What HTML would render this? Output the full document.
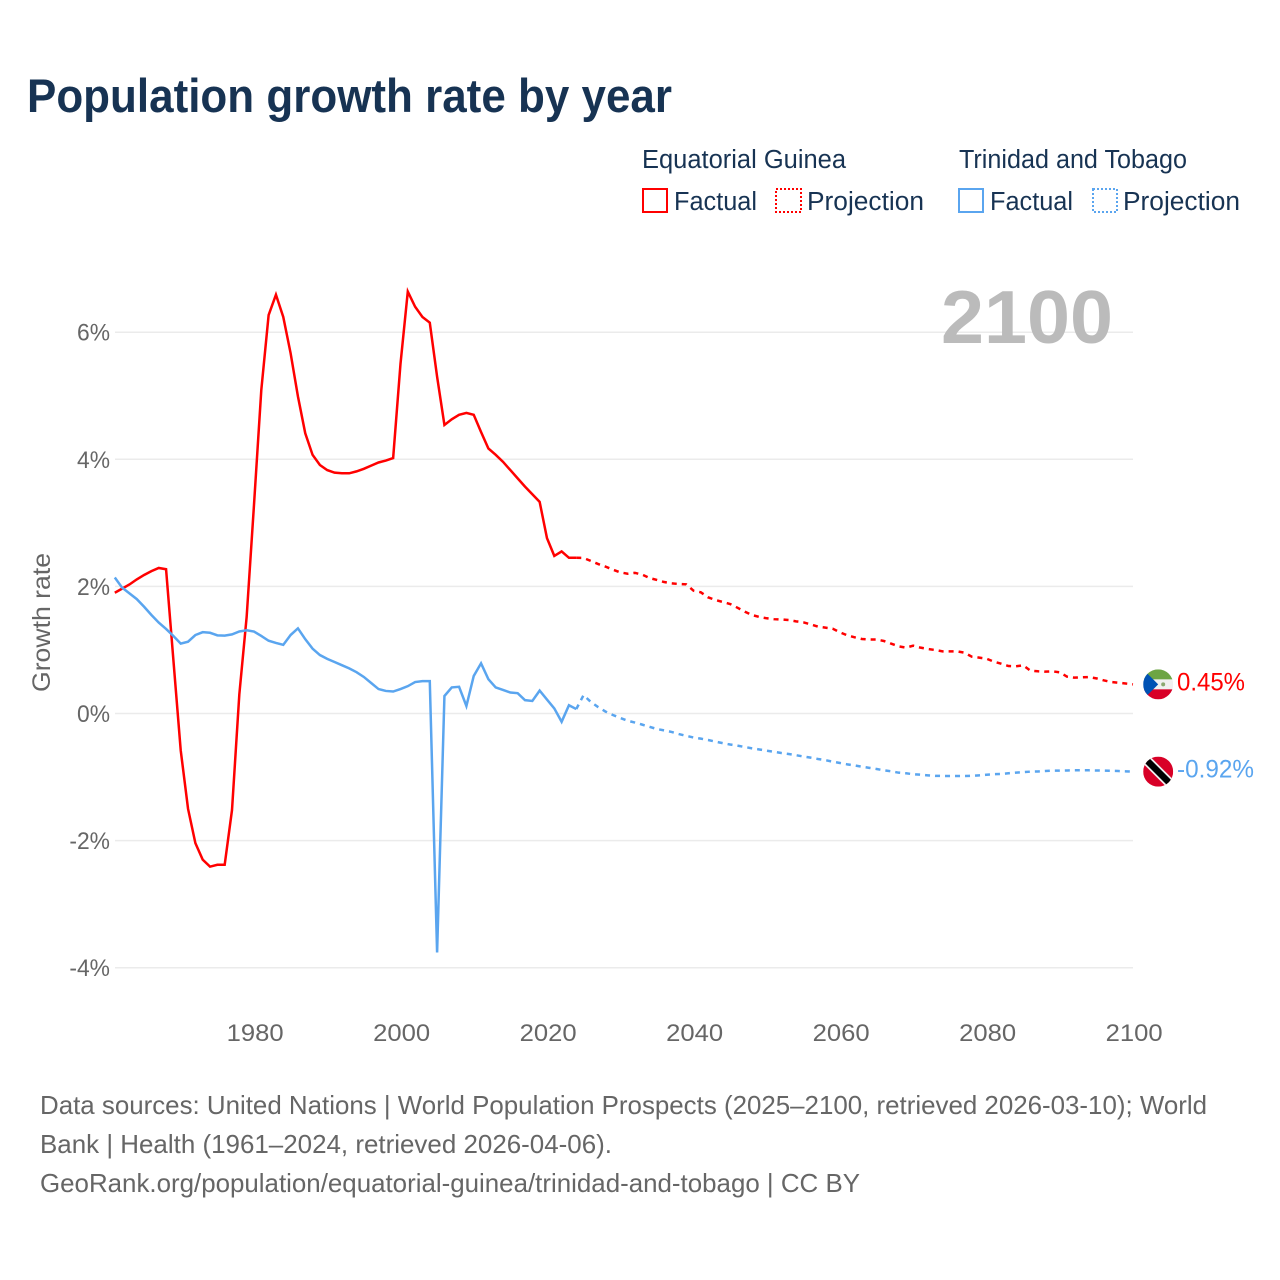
<!DOCTYPE html>
<html lang="en">
<head>
<meta charset="utf-8">
<title>Population growth rate by year</title>
<style>
html,body{margin:0;padding:0;background:#fff;}
svg{display:block;font-family:"Liberation Sans",sans-serif;}
</style>
</head>
<body>
<svg id="chart" width="1280" height="1280" viewBox="0 0 1280 1280" xmlns="http://www.w3.org/2000/svg">
  <rect width="1280" height="1280" fill="#fff"/>
  <text x="27" y="112" font-size="47" font-weight="700" fill="#173353" textLength="645" lengthAdjust="spacingAndGlyphs">Population growth rate by year</text>

  <g font-size="25.5" fill="#173353">
    <text x="642" y="168" textLength="204" lengthAdjust="spacingAndGlyphs">Equatorial Guinea</text>
    <text x="959" y="168" textLength="228" lengthAdjust="spacingAndGlyphs">Trinidad and Tobago</text>
    <rect x="643" y="189" width="24" height="23" fill="none" stroke="#ff0000" stroke-width="2"/>
    <text x="674" y="210" textLength="83" lengthAdjust="spacingAndGlyphs">Factual</text>
    <rect x="776" y="189" width="25" height="23" fill="none" stroke="#ff0000" stroke-width="2" stroke-dasharray="2 2"/>
    <text x="807" y="210" textLength="117" lengthAdjust="spacingAndGlyphs">Projection</text>
    <rect x="959" y="189" width="24" height="23" fill="none" stroke="#5aa5ef" stroke-width="2"/>
    <text x="990" y="210" textLength="83" lengthAdjust="spacingAndGlyphs">Factual</text>
    <rect x="1093" y="189" width="24" height="23" fill="none" stroke="#5aa5ef" stroke-width="2" stroke-dasharray="2 2"/>
    <text x="1123" y="210" textLength="117" lengthAdjust="spacingAndGlyphs">Projection</text>
  </g>

  <g id="grid"></g>
  <g id="yticks" font-size="24" fill="#666"></g>
  <g id="xticks" font-size="24" fill="#666"></g>

  <text transform="translate(50,692) rotate(-90)" font-size="25" fill="#666" textLength="139" lengthAdjust="spacingAndGlyphs">Growth rate</text>
  <text x="941" y="343" font-size="75" font-weight="700" fill="#bbbbbb" textLength="172" lengthAdjust="spacingAndGlyphs">2100</text>

  <g id="series"></g>

  <g id="flag-eg">
    <clipPath id="clip-eg"><circle cx="0" cy="0" r="15"/></clipPath>
    <g clip-path="url(#clip-eg)">
      <rect x="-15" y="-15" width="30" height="30" fill="#f0f0f0"/>
      <rect x="-15" y="-15" width="30" height="10" fill="#6da544"/>
      <rect x="-15" y="5" width="30" height="10" fill="#d80027"/>
      <polygon points="-15,-15 0,0 -15,15" fill="#0052b4"/>
      <circle cx="5" cy="0" r="2" fill="#8aa870"/>
    </g>
  </g>
  <g id="flag-tt">
    <clipPath id="clip-tt"><circle cx="0" cy="0" r="15"/></clipPath>
    <g clip-path="url(#clip-tt)">
      <rect x="-15" y="-15" width="30" height="30" fill="#d80027"/>
      <line x1="-15" y1="-15" x2="15" y2="15" stroke="#f0f0f0" stroke-width="10"/>
      <line x1="-15" y1="-15" x2="15" y2="15" stroke="#000" stroke-width="6.5"/>
    </g>
  </g>
  <text id="value-eg" x="1177" font-size="25" fill="#ff0000" textLength="68" lengthAdjust="spacingAndGlyphs">0.45%</text>
  <text id="value-tt" x="1177" font-size="25" fill="#5aa5ef" textLength="77" lengthAdjust="spacingAndGlyphs">-0.92%</text>

  <g font-size="26" fill="#666">
    <text x="40" y="1114" textLength="1167" lengthAdjust="spacingAndGlyphs">Data sources: United Nations | World Population Prospects (2025–2100, retrieved 2026-03-10); World</text>
    <text x="40" y="1153" textLength="572" lengthAdjust="spacingAndGlyphs">Bank | Health (1961–2024, retrieved 2026-04-06).</text>
    <text x="40" y="1192" textLength="820" lengthAdjust="spacingAndGlyphs">GeoRank.org/population/equatorial-guinea/trinidad-and-tobago | CC BY</text>
  </g>
</svg>
<script>
const factualYears = [1961,1962,1963,1964,1965,1966,1967,1968,1969,1970,1971,1972,1973,1974,1975,1976,1977,1978,1979,1980,1981,1982,1983,1984,1985,1986,1987,1988,1989,1990,1991,1992,1993,1994,1995,1996,1997,1998,1999,2000,2001,2002,2003,2004,2005,2006,2007,2008,2009,2010,2011,2012,2013,2014,2015,2016,2017,2018,2019,2020,2021,2022,2023,2024];
const projectionYears = [2024,2025,2026,2027,2028,2029,2030,2031,2032,2033,2034,2035,2036,2037,2038,2039,2040,2041,2042,2043,2044,2045,2046,2047,2048,2049,2050,2051,2052,2053,2054,2055,2056,2057,2058,2059,2060,2061,2062,2063,2064,2065,2066,2067,2068,2069,2070,2071,2072,2073,2074,2075,2076,2077,2078,2079,2080,2081,2082,2083,2084,2085,2086,2087,2088,2089,2090,2091,2092,2093,2094,2095,2096,2097,2098,2099,2100];
const egFactual = [1.90,1.965,2.03,2.11,2.18,2.24,2.29,2.27,0.84,-0.58,-1.50,-2.04,-2.30,-2.41,-2.38,-2.38,-1.52,0.30,1.52,3.28,5.09,6.27,6.59,6.24,5.67,4.99,4.41,4.07,3.91,3.83,3.79,3.78,3.78,3.81,3.85,3.90,3.95,3.98,4.02,5.50,6.64,6.40,6.24,6.15,5.30,4.54,4.63,4.70,4.73,4.70,4.43,4.17,4.07,3.96,3.83,3.70,3.57,3.45,3.33,2.76,2.48,2.55,2.45,2.45];
const egProjection = [2.45,2.447,2.40,2.352,2.311,2.263,2.221,2.20,2.213,2.185,2.132,2.101,2.069,2.048,2.038,2.033,1.933,1.907,1.828,1.786,1.755,1.723,1.665,1.602,1.55,1.518,1.498,1.484,1.479,1.471,1.45,1.435,1.403,1.366,1.351,1.335,1.277,1.23,1.199,1.172,1.165,1.164,1.141,1.099,1.057,1.036,1.067,1.036,1.015,0.999,0.978,0.978,0.978,0.957,0.894,0.879,0.863,0.816,0.784,0.747,0.742,0.758,0.674,0.664,0.658,0.664,0.648,0.58,0.564,0.569,0.574,0.553,0.522,0.496,0.485,0.472,0.459];
const ttFactual = [2.14,1.98,1.89,1.80,1.68,1.55,1.43,1.33,1.22,1.10,1.13,1.235,1.28,1.27,1.23,1.225,1.245,1.29,1.31,1.29,1.22,1.145,1.11,1.08,1.235,1.34,1.17,1.02,0.92,0.86,0.81,0.76,0.71,0.65,0.575,0.48,0.385,0.355,0.346,0.385,0.43,0.495,0.51,0.51,-3.76,0.275,0.41,0.42,0.118,0.59,0.79,0.54,0.41,0.37,0.33,0.32,0.21,0.197,0.36,0.22,0.08,-0.13,0.13,0.07];
const ttProjection = [0.07,0.29,0.18,0.10,0.03,-0.024,-0.07,-0.113,-0.142,-0.175,-0.21,-0.244,-0.266,-0.29,-0.323,-0.351,-0.378,-0.396,-0.417,-0.443,-0.467,-0.488,-0.506,-0.527,-0.548,-0.566,-0.585,-0.603,-0.622,-0.637,-0.656,-0.677,-0.695,-0.716,-0.734,-0.758,-0.779,-0.80,-0.818,-0.837,-0.855,-0.873,-0.894,-0.91,-0.931,-0.941,-0.955,-0.963,-0.973,-0.981,-0.983,-0.983,-0.983,-0.983,-0.981,-0.973,-0.963,-0.955,-0.952,-0.941,-0.931,-0.923,-0.915,-0.912,-0.905,-0.899,-0.899,-0.897,-0.894,-0.894,-0.894,-0.897,-0.899,-0.902,-0.905,-0.91,-0.915];
const yTickValues = [6,4,2,0,-2,-4];
const yTickLabels = ["6%","4%","2%","0%","-2%","-4%"];
const xTickValues = [1980,2000,2020,2040,2060,2080,2100];
const xTickLabels = ["1980","2000","2020","2040","2060","2080","2100"];

const SVGNS = "http://www.w3.org/2000/svg";
const RED = "#ff0000";
const BLUE = "#5aa5ef";
function x(year){ return 114.8 + (year - 1961) * 7.325; }
function y(value){ return 713.5 - value * 63.55; }
function pathFrom(years, values){
  return values.map(function(v, i){
    return (i ? "L" : "M") + x(years[i]).toFixed(2) + " " + y(v).toFixed(2);
  }).join("");
}
const gridG = document.getElementById("grid");
const yG = document.getElementById("yticks");
const xG = document.getElementById("xticks");
const seriesG = document.getElementById("series");

yTickValues.forEach(function(v, i){
  const line = document.createElementNS(SVGNS, "line");
  
  
  line.setAttribute("x1", 115);
  line.setAttribute("x2", 1133);
  line.setAttribute("y1", y(v));
  line.setAttribute("y2", y(v));
  line.setAttribute("stroke", "#ebebeb");
  line.setAttribute("stroke-width", "1.5");
  gridG.appendChild(line);
  const t = document.createElementNS(SVGNS, "text");
  
  
  t.setAttribute("x", 110);
  t.setAttribute("y", y(v) + 8.5);
  t.setAttribute("text-anchor", "end");
  t.textContent = yTickLabels[i];
  yG.appendChild(t);
  t.setAttribute("textLength", (t.getComputedTextLength() * 0.95).toFixed(1));
  t.setAttribute("lengthAdjust", "spacingAndGlyphs");
});
xTickValues.forEach(function(v, i){
  const t = document.createElementNS(SVGNS, "text");
  
  
  t.setAttribute("x", x(v) + 1.2);
  t.setAttribute("y", 1041);
  t.setAttribute("text-anchor", "middle");
  t.setAttribute("textLength", "57");
  t.setAttribute("lengthAdjust", "spacingAndGlyphs");
  t.textContent = xTickLabels[i];
  xG.appendChild(t);
});

const egFactualPath = document.createElementNS(SVGNS, "path");


egFactualPath.setAttribute("d", pathFrom(factualYears, egFactual));
egFactualPath.setAttribute("fill", "none");
egFactualPath.setAttribute("stroke", RED);
egFactualPath.setAttribute("stroke-width", "2.5");
seriesG.appendChild(egFactualPath);

const egProjPath = document.createElementNS(SVGNS, "path");


egProjPath.setAttribute("d", pathFrom(projectionYears, egProjection));
egProjPath.setAttribute("fill", "none");
egProjPath.setAttribute("stroke", RED);
egProjPath.setAttribute("stroke-width", "2.5");
egProjPath.setAttribute("stroke-dasharray", "5 5");
seriesG.appendChild(egProjPath);

const ttFactualPath = document.createElementNS(SVGNS, "path");


ttFactualPath.setAttribute("d", pathFrom(factualYears, ttFactual));
ttFactualPath.setAttribute("fill", "none");
ttFactualPath.setAttribute("stroke", BLUE);
ttFactualPath.setAttribute("stroke-width", "2.5");
seriesG.appendChild(ttFactualPath);

const ttProjPath = document.createElementNS(SVGNS, "path");


ttProjPath.setAttribute("d", pathFrom(projectionYears, ttProjection));
ttProjPath.setAttribute("fill", "none");
ttProjPath.setAttribute("stroke", BLUE);
ttProjPath.setAttribute("stroke-width", "2.5");
ttProjPath.setAttribute("stroke-dasharray", "5 5");
seriesG.appendChild(ttProjPath);

const egEnd = egProjection[egProjection.length - 1];
const ttEnd = ttProjection[ttProjection.length - 1];
const endX = x(projectionYears[projectionYears.length - 1]) + 25.2;
document.getElementById("flag-eg").setAttribute("transform", "translate(" + endX + "," + y(egEnd) + ")");
document.getElementById("flag-tt").setAttribute("transform", "translate(" + endX + "," + y(ttEnd) + ")");
document.getElementById("value-eg").setAttribute("y", y(egEnd) + 6);
document.getElementById("value-tt").setAttribute("y", y(ttEnd) + 6);
</script>
</body>
</html>
